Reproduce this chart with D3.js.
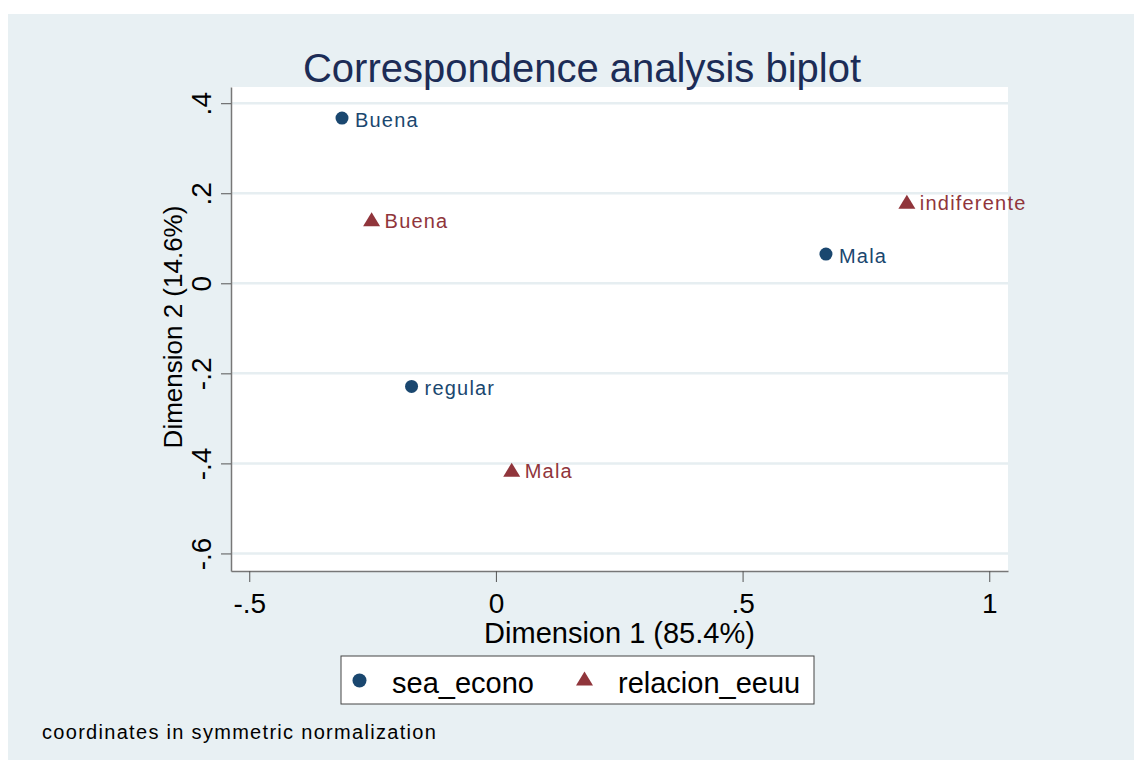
<!DOCTYPE html>
<html>
<head>
<meta charset="utf-8">
<script src="https://cdn.jsdelivr.net/npm/d3@7"></script>
<style>
  body { margin: 0; background: #ffffff; }
  text { font-family: "Liberation Sans", Arial, sans-serif; }
</style>
</head>
<body>
<div id="chart"></div>
<script>
// data
var econoNames = ["Buena", "Mala", "regular"];
var econoDim1 = [-0.312, 0.669, -0.171];
var econoDim2 = [0.367, 0.065, -0.229];

var relNames = ["Buena", "indiferente", "Mala"];
var relDim1 = [-0.252, 0.833, 0.032];
var relDim2 = [0.142, 0.181, -0.414];

var xTicks = [-0.5, 0, 0.5, 1];
var yTicks = [-0.6, -0.4, -0.2, 0, 0.2, 0.4];

var legendLabels = ["sea_econo", "relacion_eeuu"];

var navy = "#1a476f", maroon = "#90353b";
var bg = "#e8f0f3";

var W = 1134, H = 760;
var plot = { left: 231, right: 1008, top: 87, bottom: 571 };

var svg = d3.select("#chart")
  .append("svg")
  .attr("width", W)
  .attr("height", H);

// graph region
svg.append("rect")
  .attr("x", 8).attr("y", 14)
  .attr("width", W - 8).attr("height", H - 14)
  .attr("fill", bg);

// plot region
svg.append("rect")
  .attr("x", plot.left).attr("y", plot.top)
  .attr("width", plot.right - plot.left)
  .attr("height", plot.bottom - plot.top)
  .attr("fill", "#ffffff");

var x = d3.scaleLinear().domain([-0.537, 1.038]).range([plot.left, plot.right]);
var y = d3.scaleLinear().domain([-0.639, 0.436]).range([plot.bottom, plot.top]);

var fmt = function (d) { return d === 0 ? "0" : String(d).replace("0.", "."); };

// gridlines
svg.selectAll(".grid")
  .data(yTicks)
  .enter()
  .append("line")
  .attr("x1", plot.left).attr("x2", plot.right)
  .attr("y1", function (d) { return y(d); })
  .attr("y2", function (d) { return y(d); })
  .attr("stroke", "#e6eef1")
  .attr("stroke-width", 2.5);

// y axis
var yAxis = svg.append("g")
  .attr("transform", "translate(" + plot.left + ",0)")
  .call(d3.axisLeft(y).tickValues(yTicks).tickFormat(fmt).tickSize(10).tickSizeOuter(0));
yAxis.select(".domain").attr("stroke", "#777").attr("stroke-width", 1.5);
yAxis.selectAll(".tick line").attr("stroke", "#555");
yAxis.selectAll(".tick text")
  .attr("x", null).attr("dy", null)
  .attr("transform", "translate(-20,0) rotate(-90)")
  .attr("text-anchor", "middle")
  .attr("fill", "#000")
  .style("font-size", "28px");

// x axis
var xAxis = svg.append("g")
  .attr("transform", "translate(0," + plot.bottom + ")")
  .call(d3.axisBottom(x).tickValues(xTicks).tickFormat(fmt).tickSize(11).tickSizeOuter(0));
xAxis.select(".domain").attr("stroke", "#777").attr("stroke-width", 1.5);
xAxis.selectAll(".tick line").attr("stroke", "#555");
xAxis.selectAll(".tick text")
  .attr("y", 42).attr("dy", null)
  .attr("fill", "#000")
  .style("font-size", "28px");

// axis titles
svg.append("text")
  .attr("x", (plot.left + plot.right) / 2)
  .attr("y", 643)
  .attr("text-anchor", "middle")
  .style("font-size", "29px")
  .text("Dimension 1 (85.4%)");

svg.append("text")
  .attr("transform", "translate(182,327) rotate(-90)")
  .attr("text-anchor", "middle")
  .style("font-size", "26px")
  .text("Dimension 2 (14.6%)");

// title
svg.append("text")
  .attr("x", 582).attr("y", 82)
  .attr("text-anchor", "middle")
  .attr("fill", "#1c2c56")
  .style("font-size", "40px")
  .text("Correspondence analysis biplot");

var tri = function (cx, cy, w, h) {
  return "M" + cx + "," + (cy - h / 2) + "L" + (cx + w / 2) + "," + (cy + h / 2) + "L" + (cx - w / 2) + "," + (cy + h / 2) + "Z";
};

// sea_econo points
var econo = econoNames.map(function (n, i) { return { name: n, d1: econoDim1[i], d2: econoDim2[i] }; });
svg.selectAll(".econo")
  .data(econo)
  .enter()
  .append("circle")
  .attr("cx", function (d) { return x(d.d1); })
  .attr("cy", function (d) { return y(d.d2); })
  .attr("r", 6.5)
  .attr("fill", navy);
svg.selectAll(".econoLab")
  .data(econo)
  .enter()
  .append("text")
  .attr("x", function (d) { return x(d.d1) + 13; })
  .attr("y", function (d) { return y(d.d2) + 8.5; })
  .attr("fill", navy)
  .style("font-size", "20px")
  .style("letter-spacing", "1.2px")
  .text(function (d) { return d.name; });

// relacion_eeuu points
var rel = relNames.map(function (n, i) { return { name: n, d1: relDim1[i], d2: relDim2[i] }; });
svg.selectAll(".rel")
  .data(rel)
  .enter()
  .append("path")
  .attr("d", function (d) { return tri(x(d.d1), y(d.d2), 17, 14); })
  .attr("fill", maroon);
svg.selectAll(".relLab")
  .data(rel)
  .enter()
  .append("text")
  .attr("x", function (d) { return x(d.d1) + 13; })
  .attr("y", function (d) { return y(d.d2) + 8.5; })
  .attr("fill", maroon)
  .style("font-size", "20px")
  .style("letter-spacing", "1.2px")
  .text(function (d) { return d.name; });

// legend
var legend = svg.append("g");
legend.append("rect")
  .attr("x", 341).attr("y", 656)
  .attr("width", 473).attr("height", 48)
  .attr("fill", "#fff")
  .attr("stroke", "#444")
  .attr("stroke-width", 1);
legend.append("circle")
  .attr("cx", 359.5).attr("cy", 680.5).attr("r", 7)
  .attr("fill", navy);
legend.append("path")
  .attr("d", tri(584.5, 678.5, 17, 14))
  .attr("fill", maroon);
legend.selectAll(".legLab")
  .data(legendLabels)
  .enter()
  .append("text")
  .attr("x", function (d, i) { return i === 0 ? 392 : 618; })
  .attr("y", 693)
  .style("font-size", "29px")
  .text(function (d) { return d; });

// note
svg.append("text")
  .attr("x", 42).attr("y", 739)
  .style("font-size", "20px")
  .style("letter-spacing", "1.3px")
  .text("coordinates in symmetric normalization");
</script>
</body>
</html>
